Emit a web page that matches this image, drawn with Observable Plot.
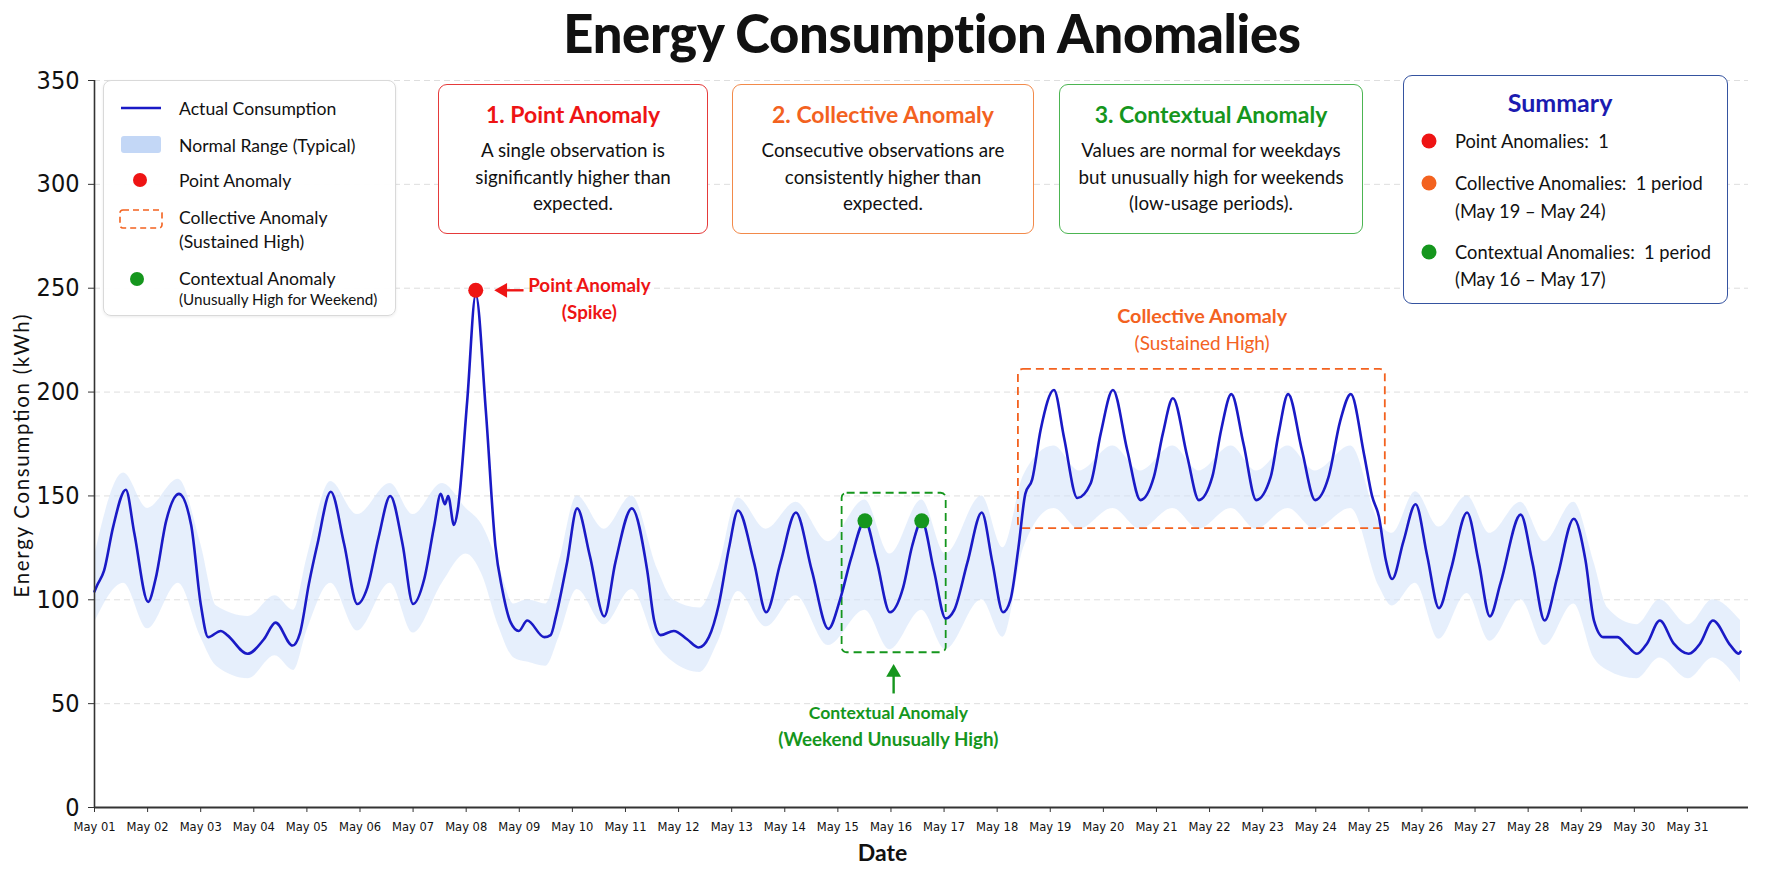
<!DOCTYPE html>
<html><head><meta charset="utf-8">
<script src="https://cdn.jsdelivr.net/npm/d3@7"></script>
<script src="https://cdn.jsdelivr.net/npm/@observablehq/plot@0.6"></script>
<style>
body{margin:0;background:#fff;font-family:Lato,"Open Sans",sans-serif;}
#wrap{position:relative;width:1774px;height:887px;overflow:hidden;background:#fff;}
#title{position:absolute;top:1px;left:932px;transform:translateX(-50%);font-size:52.5px;font-weight:900;white-space:nowrap;color:#111;letter-spacing:-0.3px;}
#chart{position:absolute;top:60px;left:0;}
.ov{position:absolute;box-sizing:border-box;background:#fff;}
.card{border:1.6px solid;border-radius:9px;text-align:center;}
.card .t{font-weight:700;font-size:23px;margin-top:15px;line-height:28px;}
.card .b{font-size:18.8px;line-height:26.5px;margin-top:9px;color:#111;}
svg.ovs{position:absolute;left:0;top:0;overflow:visible;}
svg.ovs text{font-family:Lato,"Open Sans",sans-serif;fill:#111;dominant-baseline:central;white-space:pre;}
#ylabsvg{position:absolute;left:0;top:0;overflow:visible;pointer-events:none;}
</style></head>
<body><div id="wrap">
<div id="title">Energy Consumption Anomalies</div>
<div id="chart"></div>
<svg id="ylabsvg" width="40" height="887"><text transform="translate(21,456) rotate(-90)" text-anchor="middle" dominant-baseline="central" font-family="Lato, sans-serif" font-size="20.5" fill="#111" textLength="283" lengthAdjust="spacing">Energy Consumption (kWh)</text></svg>
</div>
<script>
// ---- data (time in days since May 01 00:00, values in kWh) ----
const lineT = [0,0.05,0.18,0.35,0.59,0.75,1.01,1.15,1.35,1.59,1.82,2.00,2.14,2.38,2.50,2.88,3.19,3.41,3.73,3.87,4.04,4.20,4.45,4.70,4.95,5.14,5.35,5.57,5.80,6.00,6.21,6.40,6.52,6.60,6.66,6.77,6.84,7.02,7.18,7.37,7.55,7.68,7.84,7.99,8.15,8.47,8.59,8.69,8.90,9.09,9.33,9.60,9.81,10.12,10.41,10.54,10.66,10.91,11.16,11.38,11.57,11.76,11.95,12.12,12.42,12.65,12.92,13.21,13.51,13.82,14.04,14.25,14.51,14.73,14.98,15.23,15.40,15.58,15.81,16.03,16.19,16.44,16.71,16.91,17.11,17.25,17.40,17.53,17.66,17.82,18.07,18.26,18.51,18.76,18.95,19.18,19.45,19.70,19.95,20.12,20.31,20.58,20.80,21.05,21.22,21.41,21.64,21.88,22.15,22.30,22.48,22.74,22.99,23.24,23.46,23.66,23.91,24.06,24.19,24.32,24.44,24.65,24.88,25.10,25.32,25.54,25.85,26.07,26.28,26.48,26.86,27.08,27.31,27.55,27.86,28.08,28.24,28.42,28.68,28.86,29.05,29.24,29.48,29.74,30.02,30.24,30.48,30.81,30.97,31.00];
const lineV = [104,107,114,135,153,132,99,110,138,151,136,98,82,85,83,74,81,89,78,84,108,127,152,127,98,106,130,150,127,98,110,136,151,146,150,136,143,196,247,191,126,105,89,85,90,82,83,92,118,144,121,92,118,144,114,90,83,85,81,77,82,98,125,143,118,94,118,142,114,86,100,120,138,119,94,106,126,138,114,91,95,118,142,118,94,100,125,151,158,182,201,178,149,156,180,201,172,148,159,180,197,169,148,159,182,199,175,148,159,180,199,172,148,159,186,199,170,150,140,119,110,128,146,121,96,114,142,118,92,108,141,118,90,111,139,119,90,82,82,78,74,79,90,79,74,79,90,78,74,75];

const bandT  = [0,0.55,1.00,1.58,2.00,2.30,2.90,3.40,3.75,4.00,4.45,4.95,5.57,6.00,6.55,7.00,7.30,7.60,7.90,8.15,8.50,8.75,9.09,9.60,10.12,10.60,10.90,11.40,11.75,12.12,12.65,13.21,13.82,14.51,14.98,15.58,16.03,16.71,17.11,17.50,18.07,18.55,19.18,19.70,20.31,20.80,21.41,21.88,22.48,22.99,23.66,24.20,24.44,24.88,25.32,25.85,26.28,26.86,27.31,27.86,28.24,28.50,29.05,29.48,30.02,30.48,31.00];
const bandLo = [89,108,86,108,82,68,62,73,66,85,108,85,108,84,108,122,112,88,72,70,68,82,105,88,105,78,70,65,80,104,87,102,78,95,76,95,76,100,82,125,144,134,144,134,144,134,144,134,144,134,144,106,97,108,81,103,80,100,78,98,72,66,62,72,62,72,60];
const bandHi = [121,161,144,158,127,97,92,102,95,120,157,141,156,141,156,144,136,118,98,100,98,118,150,134,150,115,100,96,115,149,134,147,128,148,122,148,122,150,125,160,174,162,174,162,174,162,174,162,174,162,174,137,132,152,135,150,132,147,128,147,118,96,88,100,88,100,90];

const yTicks = [0,50,100,150,200,250,300,350];
const pointAnomT = [7.18], pointAnomV = [249];
const contextT = [14.51, 15.58], contextV = [138, 138];
const collectiveBox = {t1: 17.40, t2: 24.31, v1: 134.3, v2: 210.9};
const contextualBox = {t1: 14.08, t2: 16.04, v1: 74.5, v2: 151.3};

// colors
const RED = "#ee1414", ORANGE = "#f3621f", GREEN = "#15961d", BLUE = "#1a1ac6";

// ---- build ----
const DAY = 86400000, T0 = Date.UTC(2025, 4, 1);
const toDate = t => new Date(T0 + t * DAY);
const series = lineT.map((t, i) => ({date: toDate(t), value: lineV[i]}));
const band = bandT.map((t, i) => ({date: toDate(t), lo: bandLo[i], hi: bandHi[i]}));
const tickDates = d3.utcDay.range(toDate(0), toDate(31));
const COND = '"Liberation Sans Narrow","DejaVu Sans Condensed","Roboto Condensed",sans-serif';

const chart = Plot.plot({
  width: 1774, height: 827,
  marginLeft: 94, marginRight: 26, marginTop: 20, marginBottom: 80,
  style: {fontFamily: "Lato, sans-serif", background: "transparent", overflow: "visible", color: "#111"},
  x: {type: "utc", domain: [toDate(0), toDate(31.15)]},
  y: {domain: [0, 350]},
  marks: [
    Plot.gridY(yTicks.filter(d => d > 0), {stroke: "#c8c8c8", strokeOpacity: 0.6, strokeDasharray: "6,4", strokeWidth: 1}),
    Plot.areaY(band, {x: "date", y1: "lo", y2: "hi", fill: "#d2e1fa", fillOpacity: 0.55, curve: "monotone-x"}),
    Plot.rect([contextualBox], {x1: d => toDate(d.t1), x2: d => toDate(d.t2), y1: "v1", y2: "v2", fill: "none", stroke: GREEN, strokeWidth: 1.8, strokeDasharray: "8,5", rx: 5}),
    Plot.rect([collectiveBox], {x1: d => toDate(d.t1), x2: d => toDate(d.t2), y1: "v1", y2: "v2", fill: "none", stroke: ORANGE, strokeWidth: 1.8, strokeDasharray: "8,5", rx: 5}),
    Plot.lineY(series, {x: "date", y: "value", stroke: BLUE, strokeWidth: 2.6, curve: "monotone-x"}),
    Plot.dot(pointAnomT.map((t, i) => ({date: toDate(t), v: pointAnomV[i]})), {x: "date", y: "v", r: 7.5, fill: RED}),
    Plot.dot(contextT.map((t, i) => ({date: toDate(t), v: contextV[i]})), {x: "date", y: "v", r: 7.5, fill: GREEN}),
    // red arrow to spike
    Plot.link([{a: toDate(8.08), b: toDate(7.62), v: 249}], {x1: "a", x2: "b", y1: "v", y2: "v", stroke: RED, strokeWidth: 2.4}),
    Plot.dot([{d: toDate(7.52), v: 249}], {x: "d", y: "v", symbol: "triangle", r: 5.5, rotate: -90, fill: RED, dx: 9}),
    Plot.text([{d: toDate(9.32), v: 251.3, s: "Point Anomaly"}, {d: toDate(9.32), v: 238.3, s: "(Spike)"}], {x: "d", y: "v", text: "s", fill: RED, fontWeight: 700, fontSize: 18.8}),
    // collective label
    Plot.text([{d: toDate(20.86), v: 236.1, s: "Collective Anomaly"}], {x: "d", y: "v", text: "s", fill: ORANGE, fontWeight: 700, fontSize: 19.8}),
    Plot.text([{d: toDate(20.86), v: 223.4, s: "(Sustained High)"}], {x: "d", y: "v", text: "s", fill: ORANGE, fontSize: 19}),
    // green arrow + label
    Plot.link([{d: toDate(15.05), a: 54.9, b: 64}], {x1: "d", x2: "d", y1: "a", y2: "b", stroke: GREEN, strokeWidth: 2.4}),
    Plot.dot([{d: toDate(15.05), v: 69.3}], {x: "d", y: "v", symbol: "triangle", r: 5.5, fill: GREEN, dy: 9}),
    Plot.text([{d: toDate(14.95), v: 45.3, s: "Contextual Anomaly"}], {x: "d", y: "v", text: "s", fill: GREEN, fontWeight: 700, fontSize: 17.6}),
    Plot.text([{d: toDate(14.95), v: 32.7, s: "(Weekend Unusually High)"}], {x: "d", y: "v", text: "s", fill: GREEN, fontWeight: 700, fontSize: 18.8}),
    // axes
    Plot.ruleX([toDate(0)], {y1: 0, y2: 350, stroke: "#333", strokeWidth: 1.6}),
    Plot.ruleY([0], {stroke: "#333", strokeWidth: 1.8}),
    Plot.axisY({ticks: yTicks, tickSize: 6, tickPadding: 9, fontSize: 25, label: null, fontFamily: COND, stroke: "#333"}),
    Plot.axisX({ticks: tickDates, tickFormat: d3.utcFormat("%b %d"), tickSize: 5, tickPadding: 9, fontSize: 12.8, label: null, fontFamily: COND, stroke: "#333"}),
    Plot.text(["Date"], {frameAnchor: "bottom", dy: 53, dx: -39, fontSize: 23, fontWeight: 700, fill: "#111"})
  ]
});
document.getElementById("chart").appendChild(chart);

// ---- overlays: legend, description cards, summary ----
const wrap = document.getElementById("wrap");
function overlay(html, style, cls) {
  const d = document.createElement("div");
  d.className = "ov " + (cls || "");
  Object.assign(d.style, style);
  d.innerHTML = html;
  wrap.appendChild(d);
  return d;
}
// legend
overlay(`<svg class="ovs" width="293" height="236">
  <line x1="17" x2="57" y1="27" y2="27" stroke="${BLUE}" stroke-width="2.6"/>
  <rect x="17" y="55" width="40" height="17" rx="3" fill="#c3d7f6"/>
  <circle cx="36" cy="99" r="7" fill="${RED}"/>
  <rect x="16" y="129" width="42" height="18" rx="3" fill="none" stroke="${ORANGE}" stroke-width="1.6" stroke-dasharray="6,4"/>
  <circle cx="33" cy="198" r="7" fill="${GREEN}"/>
  <text x="75" y="27" font-size="17.6">Actual Consumption</text>
  <text x="75" y="64" font-size="17.6">Normal Range (Typical)</text>
  <text x="75" y="99" font-size="17.6">Point Anomaly</text>
  <text x="75" y="136" font-size="17.6">Collective Anomaly</text>
  <text x="75" y="160" font-size="17.6">(Sustained High)</text>
  <text x="75" y="197" font-size="17.6">Contextual Anomaly</text>
  <text x="75" y="218" font-size="15.2">(Unusually High for Weekend)</text>
</svg>`, {left: "103px", top: "80px", width: "293px", height: "236px", border: "1px solid #d9d9d9", borderRadius: "8px", boxShadow: "0 1px 3px rgba(0,0,0,0.08)", background: "rgba(255,255,255,0.95)"});

const cards = [
  {left: 438, width: 270, border: "#e53a3a", color: RED, title: "1. Point Anomaly", lines: ["A single observation is", "significantly higher than", "expected."]},
  {left: 732, width: 302, border: "#f28a4a", color: ORANGE, title: "2. Collective Anomaly", lines: ["Consecutive observations are", "consistently higher than", "expected."]},
  {left: 1059, width: 304, border: "#4cb552", color: GREEN, title: "3. Contextual Anomaly", lines: ["Values are normal for weekdays", "but unusually high for weekends", "(low-usage periods)."]}
];
for (const c of cards) {
  overlay(`<div class="t" style="color:${c.color}">${c.title}</div><div class="b">${c.lines.join("<br>")}</div>`,
    {left: c.left + "px", top: "84px", width: c.width + "px", height: "150px", borderColor: c.border}, "card");
}
// summary
overlay(`<svg class="ovs" width="325" height="229">
  <text x="156" y="26" font-size="25" font-weight="700" text-anchor="middle" style="fill:#1b1bb0">Summary</text>
  <circle cx="25" cy="65" r="7.5" fill="${RED}"/>
  <text x="51" y="65" font-size="18.3">Point Anomalies:  1</text>
  <circle cx="25" cy="107" r="7.5" fill="${ORANGE}"/>
  <text x="51" y="107" font-size="18.3">Collective Anomalies:  1 period</text>
  <text x="51" y="135" font-size="18.3">(May 19 – May 24)</text>
  <circle cx="25" cy="176" r="7.5" fill="${GREEN}"/>
  <text x="51" y="176" font-size="18.3">Contextual Anomalies:  1 period</text>
  <text x="51" y="203" font-size="18.3">(May 16 – May 17)</text>
</svg>`, {left: "1403px", top: "75px", width: "325px", height: "229px", border: "1.6px solid #3553a0", borderRadius: "9px"});
</script>
</body></html>
